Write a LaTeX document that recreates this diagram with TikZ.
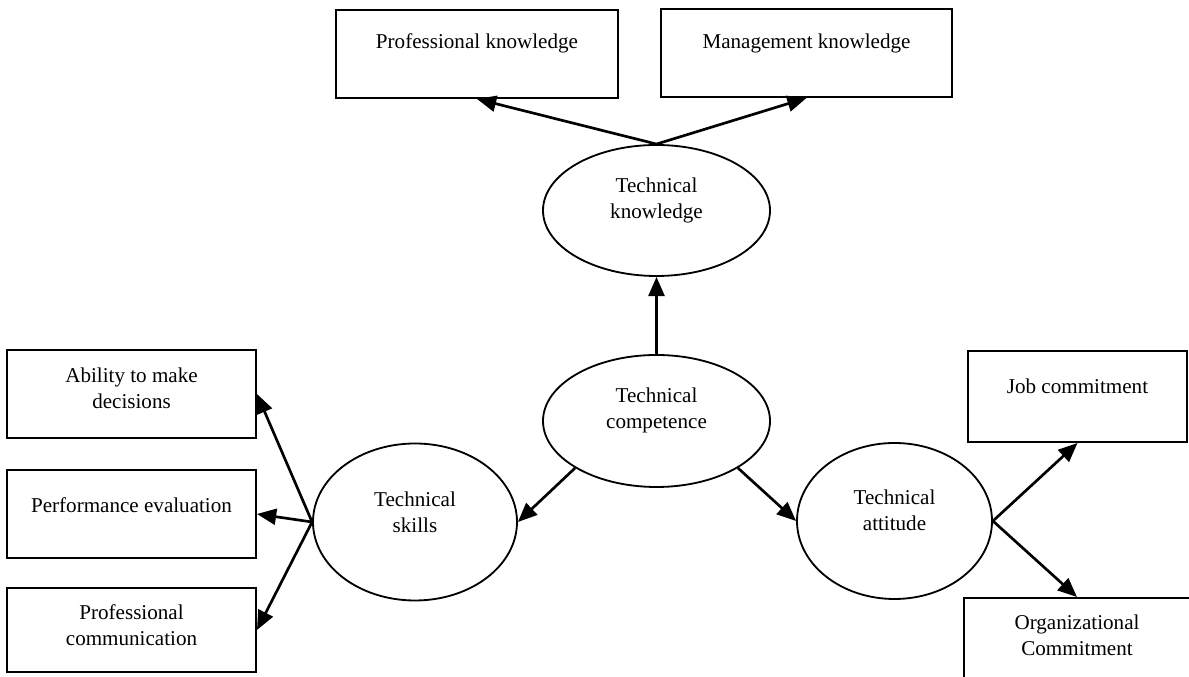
\documentclass[tikz,border=0pt]{standalone}
\usepackage{fontspec}
\setmainfont{Liberation Serif}
\usetikzlibrary{shapes.geometric,arrows.meta}

\tikzset{
  box/.style={draw, line width=1.4pt, rectangle, minimum width=6.225cm, minimum height=2.2cm, inner sep=0pt},
  oval/.style={draw, line width=1.3pt, ellipse, inner sep=0pt},
  txt/.style={align=center, font=\fontsize{15}{18.5}\selectfont},
  arr/.style={line width=1.9pt, -{Triangle[length=0.48cm,width=0.4cm]}}
}

\begin{document}
\begin{tikzpicture}
    \clip (0,0) rectangle (29.725,16.925);
    % knowledge side
    \node[box, minimum width=7.05cm] (pk) at (11.925,15.575) {};
    \node[txt] (pk-t) at ([yshift=0.275cm]pk.center) {Professional knowledge};
    \node[box, minimum width=7.275cm] (mk) at (20.1625,15.6) {};
    \node[txt] (mk-t) at ([yshift=0.25cm]mk.center) {Management knowledge};
    \node[oval, minimum width=5.675cm, minimum height=3.275cm] (tk) at (16.4125,11.6625) {};
    \node[txt] (tk-t) at ([yshift=0.24cm]tk.center) {Technical\\knowledge};
    % centre
    \node[oval, minimum width=5.675cm, minimum height=3.3cm] (tc) at (16.4125,6.4) {};
    \node[txt] (tc-t) at ([yshift=0.275cm]tc.center) {Technical\\competence};
    % skills side
    \node[oval, minimum width=5.1cm, minimum height=3.925cm] (ts) at (10.375,3.875) {};
    \node[txt] (ts-t) at ([yshift=0.25cm]ts.center) {Technical\\skills};
    \node[box] (ab) at (3.2875,7.075) {};
    \node[txt] (ab-t) at ([yshift=0.15cm]ab.center) {Ability to make\\decisions};
    \node[box] (pe) at (3.2875,4.075) {};
    \node[txt] (pe-t) at ([yshift=0.225cm]pe.center) {Performance evaluation};
    \node[box, minimum height=2.1cm] (pc) at (3.2875,1.175) {};
    \node[txt] (pc-t) at ([yshift=0.125cm]pc.center) {Professional\\communication};
    % attitude side
    \node[oval, minimum width=4.875cm, minimum height=3.9cm] (ta) at (22.3625,3.9) {};
    \node[txt] (ta-t) at ([yshift=0.275cm]ta.center) {Technical\\attitude};
    \node[box, minimum width=5.475cm, minimum height=2.275cm] (jc) at (26.9375,7.0125) {};
    \node[txt] (jc-t) at ([yshift=0.26cm]jc.center) {Job commitment};
    \node[box, minimum width=5.65cm] (oc) at (26.925,0.875) {};
    \node[txt] (oc-t) at ([yshift=0.175cm]oc.center) {Organizational\\Commitment};
    % arrows
    \draw[arr] (tk.north) -- (pk.south);
    \draw[arr] (tk.north) -- (mk.south);
    \draw[arr] (tc.north) -- (tk.south);
    \draw[arr] (tc.210) -- (ts.east);
    \draw[arr] (tc.330) -- (ta.west);
    \draw[arr] (ts.west) -- (ab.east);
    \draw[arr] (ts.west) -- (pe.east);
    \draw[arr] (ts.west) -- (pc.east);
    \draw[arr] (ta.east) -- (jc.south);
    \draw[arr] (ta.east) -- (oc.north);
\end{tikzpicture}
\end{document}
